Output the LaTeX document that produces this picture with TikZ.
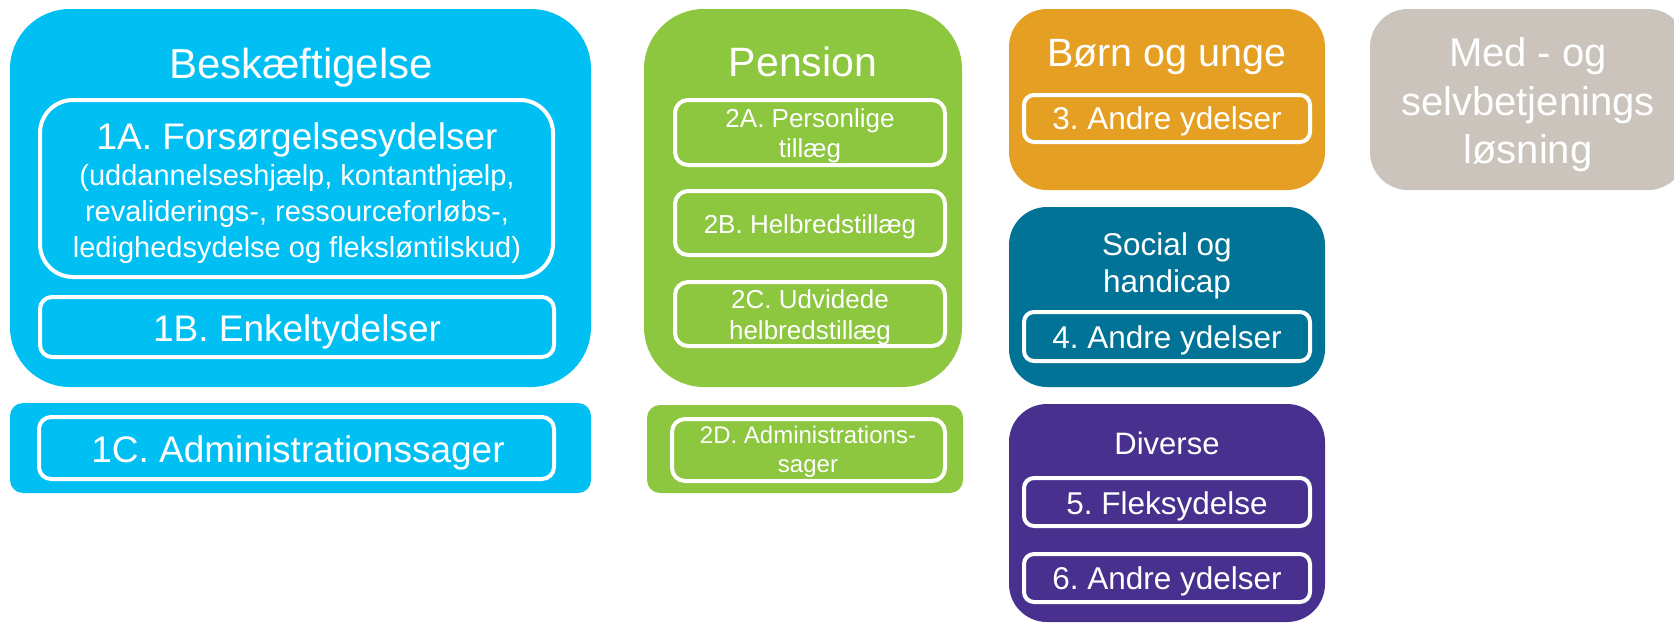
\documentclass[tikz,border=0pt]{standalone}
\usepackage{fontspec}
\setmainfont{Liberation Sans}
\frenchspacing
\definecolor{cBesk}{RGB}{0,191,243}
\definecolor{cPens}{RGB}{141,198,63}
\definecolor{cBorn}{RGB}{229,160,36}
\definecolor{cSoc}{RGB}{0,115,150}
\definecolor{cDiv}{RGB}{72,49,142}
\definecolor{cGray}{RGB}{203,196,189}
\newcommand{\myfs}[1]{\fontsize{#1pt}{#1pt}\selectfont}
\tikzset{
  outerbox/.style={draw=none, inner sep=0pt, outer sep=0pt},
  innerbox/.style={draw=white, line width=4pt, inner sep=0pt, outer sep=0pt},
  lbl/.style={text=white, anchor=base, inner sep=0pt, outer sep=0pt, font=\frenchspacing},
}
\begin{document}
\begin{tikzpicture}[x=1pt,y=-1pt]
\clip (0,0) rectangle (1674,624);
\fill[white] (0,0) rectangle (1674,624);
% outer boxes
\node[outerbox, fill=cBesk, minimum width=581pt, minimum height=378pt, rounded corners=60pt] (besk) at (300.5,198) {};
\node[outerbox, fill=cBesk, minimum width=581pt, minimum height=90pt, rounded corners=13pt] (adm1) at (300.5,448) {};
\node[outerbox, fill=cPens, minimum width=318pt, minimum height=378pt, rounded corners=60pt] (pens) at (803,198) {};
\node[outerbox, fill=cPens, minimum width=316pt, minimum height=88pt, rounded corners=13pt] (adm2) at (805,449) {};
\node[outerbox, fill=cBorn, minimum width=316pt, minimum height=181pt, rounded corners=38pt] (born) at (1167,99.5) {};
\node[outerbox, fill=cSoc, minimum width=316pt, minimum height=180pt, rounded corners=38pt] (soc) at (1167,297) {};
\node[outerbox, fill=cDiv, minimum width=316pt, minimum height=218pt, rounded corners=38pt] (div) at (1167,513) {};
\node[outerbox, fill=cGray, minimum width=316pt, minimum height=181pt, rounded corners=38pt] (med) at (1528,99.5) {};
% inner boxes
\node[innerbox, minimum width=513pt, minimum height=177pt, rounded corners=33pt] (b1a) at (296.5,188.5) {};
\node[innerbox, minimum width=514pt, minimum height=60pt, rounded corners=12pt] (b1b) at (297,327) {};
\node[innerbox, minimum width=515pt, minimum height=62pt, rounded corners=12pt] (b1c) at (296.5,448) {};
\node[innerbox, minimum width=270pt, minimum height=65pt, rounded corners=13pt] (b2a) at (810,132.5) {};
\node[innerbox, minimum width=270pt, minimum height=64pt, rounded corners=13pt] (b2b) at (810,223) {};
\node[innerbox, minimum width=270pt, minimum height=64pt, rounded corners=13pt] (b2c) at (810,314) {};
\node[innerbox, minimum width=273pt, minimum height=62pt, rounded corners=13pt] (b2d) at (808.5,450) {};
\node[innerbox, minimum width=286pt, minimum height=47pt, rounded corners=10pt] (b3) at (1167,118.5) {};
\node[innerbox, minimum width=286pt, minimum height=49pt, rounded corners=10pt] (b4) at (1167,336.5) {};
\node[innerbox, minimum width=286pt, minimum height=48pt, rounded corners=10pt] (b5) at (1167,502) {};
\node[innerbox, minimum width=286pt, minimum height=48pt, rounded corners=10pt] (b6) at (1167,578) {};
% labels
\node[lbl, font=\myfs{42}] (tBesk) at (301,78) {Beskæftigelse};
\node[lbl, font=\myfs{37}] (t1a) at (297,149) {1A. Forsørgelsesydelser};
\node[lbl, font=\myfs{29}] (t1a2) at (297,185) {(uddannelseshjælp, kontanthjælp,};
\node[lbl, font=\myfs{29}] (t1a3) at (297,221) {revaliderings-, ressourceforløbs-,};
\node[lbl, font=\myfs{29}] (t1a4) at (297,257) {ledighedsydelse og fleksløntilskud)};
\node[lbl, font=\myfs{37}] (t1b) at (297,341) {1B. Enkeltydelser};
\node[lbl, font=\myfs{37}] (t1c) at (298,462) {1C. Administrationssager};
\node[lbl, font=\myfs{41}] (tPens) at (803,76) {Pension};
\node[lbl, font=\myfs{26}] (t2a1) at (810,127) {2A. Personlige};
\node[lbl, font=\myfs{26}] (t2a2) at (810,157) {tillæg};
\node[lbl, font=\myfs{26}] (t2b) at (810,233) {2B. Helbredstillæg};
\node[lbl, font=\myfs{26}] (t2c1) at (810,308) {2C. Udvidede};
\node[lbl, font=\myfs{26}] (t2c2) at (810,339) {helbredstillæg};
\node[lbl, font=\myfs{24}] (t2d1) at (808,443) {2D. Administrations-};
\node[lbl, font=\myfs{24}] (t2d2) at (808,472) {sager};
\node[lbl, font=\myfs{39.5}] (tBorn) at (1167,66) {Børn og unge};
\node[lbl, font=\myfs{31.5}] (t3) at (1167,129) {3. Andre ydelser};
\node[lbl, font=\myfs{31.5}] (tSoc1) at (1167,255) {Social og};
\node[lbl, font=\myfs{31.5}] (tSoc2) at (1167,292) {handicap};
\node[lbl, font=\myfs{31.5}] (t4) at (1167,348) {4. Andre ydelser};
\node[lbl, font=\myfs{31}] (tDiv) at (1167,454) {Diverse};
\node[lbl, font=\myfs{31.5}] (t5) at (1167,514) {5. Fleksydelse};
\node[lbl, font=\myfs{31.5}] (t6) at (1167,589) {6. Andre ydelser};
\node[lbl, font=\myfs{40}] (tMed1) at (1528,66) {Med - og};
\node[lbl, font=\myfs{40}] (tMed2) at (1528,115) {selvbetjenings};
\node[lbl, font=\myfs{40}] (tMed3) at (1528,163) {løsning};
\end{tikzpicture}
\end{document}
